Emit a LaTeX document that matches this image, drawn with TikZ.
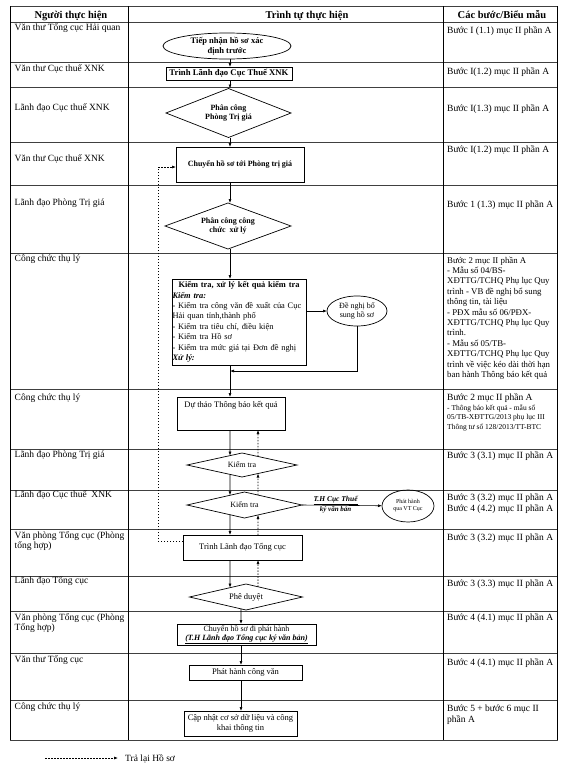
\documentclass[tikz,border=0pt]{standalone}
\usepackage{fontspec}
\setmainfont{Liberation Serif}
\usetikzlibrary{arrows.meta,calc,shapes.geometric}
\begin{document}
\begin{tikzpicture}[x=1pt,y=-1pt,
  gridh/.style={line width=0.6pt,black!75},
  gridv/.style={line width=0.75pt,black},
  lbl/.style={anchor=base west,inner sep=0pt,font=\fontsize{9.5}{10.5}\selectfont},
  lblsm/.style={anchor=base west,inner sep=0pt,font=\fontsize{8.8}{10.4}\selectfont},
  lbltiny/.style={anchor=base west,inner sep=0pt,font=\fontsize{7.5}{9}\selectfont},
  hdr/.style={anchor=base,inner sep=0pt,font=\fontsize{10.5}{12}\selectfont\bfseries},
  stepbox/.style={draw,line width=0.7pt,inner sep=1pt,outer sep=0pt,align=center,font=\fontsize{8.5}{9.5}\selectfont},
  dtext/.style={inner sep=0pt,outer sep=0pt,align=center,font=\fontsize{8}{9}\selectfont},
  dline/.style={line width=0.7pt},
  oval/.style={draw,ellipse,line width=0.7pt,inner sep=0pt,outer sep=0pt,align=center},
  flow/.style={line width=0.6pt,-{Latex[length=4pt,width=3pt]}},
  ret/.style={line width=0.6pt,dash pattern=on 1.5pt off 1.5pt,-{Latex[length=4pt,width=3pt]}},
]
\useasboundingbox (0,0) rectangle (570,772);
\fill[white] (0,0) rectangle (570,772);

% grid
\foreach \yy in {6,22,62,87,142,185,253,389,449,490,529,576,611,653,700,740}
  \draw[gridh] (10,\yy) -- (557.5,\yy);
\foreach \xx in {10,128.5,443.5,557.5}
  \draw[gridv] (\xx,6) -- (\xx,740);

% headers
\node[hdr] (h1) at (71,18) {Người thực hiện};
\node[hdr] (h2) at (307,18) {Trình tự thực hiện};
\node[hdr] (h3) at (502,18) {Các bước/Biểu mẫu};

% left column
\node[lbl] (L1) at (14.5,30) {Văn thư Tổng cục Hải quan};
\node[lbl] (L2) at (14.5,71) {Văn thư Cục thuế XNK};
\node[lbl] (L3) at (14.5,110) {Lãnh đạo Cục thuế XNK};
\node[lbl] (L4) at (14.5,161) {Văn thư Cục thuế XNK};
\node[lbl] (L5) at (14.5,205) {Lãnh đạo Phòng Trị giá};
\node[lbl] (L6) at (14.5,261) {Công chức thụ lý};
\node[lbl] (L7) at (14.5,400) {Công chức thụ lý};
\node[lbl] (L8) at (14.5,457) {Lãnh đạo Phòng Trị giá};
\node[lbl] (L9) at (14.5,497) {Lãnh đạo Cục thuế\ \ XNK};
\node[lbl] (L10a) at (14.5,538) {Văn phòng Tổng cục (Phòng};
\node[lbl] (L10b) at (14.5,548.5) {tổng hợp)};
\node[lbl] (L11) at (14.5,583) {Lãnh đạo Tổng cục};
\node[lbl] (L12a) at (14.5,620) {Văn phòng Tổng cục (Phòng};
\node[lbl] (L12b) at (14.5,630.5) {Tổng hợp)};
\node[lbl] (L13) at (14.5,662) {Văn thư Tổng cục};
\node[lbl] (L14) at (14.5,709) {Công chức thụ lý};

% right column
\node[lbl] (R1) at (447,33) {Bước I (1.1) mục II phần A};
\node[lbl] (R2) at (447,74) {Bước I(1.2) mục II phần A};
\node[lbl] (R3) at (447,111) {Bước I(1.3) mục II phần A};
\node[lbl] (R4) at (447,152) {Bước I(1.2) mục II phần A};
\node[lbl] (R5) at (447,207) {Bước 1 (1.3) mục II phần A};
\foreach \t [count=\i from 0] in {Bước 2 mục II phần A,- Mẫu số 04/BS-,XĐTTG/TCHQ Phụ lục Quy,trình - VB đề nghị bổ sung,{thông tin, tài liệu},- PĐX mẫu số 06/PĐX-,XĐTTG/TCHQ Phụ lục Quy,trình.,- Mẫu số 05/TB-,XĐTTG/TCHQ Phụ lục Quy,trình về việc kéo dài thời hạn,ban hành Thông báo kết quả}
  \node[lblsm] (R6l\i) at (447,263+\i*10.4) {\t};
\node[lbl] (R7a) at (447,400) {Bước 2 mục II phần A};
\node[lbltiny] (R7b) at (447,410) {- Thông báo kết quả - mẫu số};
\node[lbltiny] (R7c) at (447,419.5) {05/TB-XĐTTG/2013 phụ lục III};
\node[lbltiny] (R7d) at (447,429) {Thông tư số 128/2013/TT-BTC};
\node[lbl] (R8) at (447,458) {Bước 3 (3.1) mục II phần A};
\node[lbl] (R9a) at (447,500) {Bước 3 (3.2) mục II phần A};
\node[lbl] (R9b) at (447,511) {Bước 4 (4.2) mục II phần A};
\node[lbl] (R10) at (447,540) {Bước 3 (3.2) mục II phần A};
\node[lbl] (R11) at (447,586) {Bước 3 (3.3) mục II phần A};
\node[lbl] (R12) at (447,620) {Bước 4 (4.1) mục II phần A};
\node[lbl] (R13) at (447,665) {Bước 4 (4.1) mục II phần A};
\node[lbl] (R14a) at (447,711) {Bước 5 + bước 6 mục II};
\node[lbl] (R14b) at (447,722) {phần A};

% flow column x positions
\coordinate (sx) at (230,0);
\coordinate (sx2) at (241,0);
\coordinate (dx) at (258,0);

% flow nodes
\node[oval,minimum width=128pt,minimum height=26pt,font=\fontsize{8.5}{9.5}\selectfont\bfseries] (e1) at (227,46) {Tiếp nhận hồ sơ xác\\định trước};
\node[stepbox,line width=1pt,minimum width=126pt,minimum height=13pt,font=\fontsize{8.7}{9.5}\selectfont\bfseries] (b2) at (229,73.5) {Trình Lãnh đạo Cục Thuế XNK};
\node[dtext,minimum width=125pt,minimum height=49pt,font=\fontsize{8}{9}\selectfont\bfseries] (d3) at (228.5,113) {Phân công\\Phòng Trị giá};
\draw[dline] (d3.north) -- (d3.east) -- (d3.south) -- (d3.west) -- cycle;
\node[stepbox,line width=0.9pt,minimum width=128pt,minimum height=35pt,font=\fontsize{8}{9}\selectfont\bfseries] (b4) at (240,164.5) {Chuyển hồ sơ tới Phòng trị giá};
\node[dtext,minimum width=126pt,minimum height=46pt,font=\fontsize{8}{9}\selectfont\bfseries] (d5) at (228,226) {Phân công công\\chức\ \ xử lý};
\draw[dline] (d5.north) -- (d5.east) -- (d5.south) -- (d5.west) -- cycle;
\node[stepbox,line width=1pt,minimum width=134pt,minimum height=86pt,inner xsep=0.5pt,text width=133pt,align=left,font=\fontsize{8.4}{10.4}\selectfont] (b6) at (239,322) {%
\makebox[\hsize][c]{\textbf{Kiểm tra, xử lý kết quả kiểm tra}}\\
\textbf{\textit{Kiểm tra:}}\\
- Kiểm tra công văn đề xuất của Cục\\
Hải quan tỉnh,thành phố\\
- Kiểm tra tiêu chí, điều kiện\\
- Kiểm tra Hồ sơ\\
- Kiểm tra mức giá tại Đơn đề nghị\\
\textbf{\textit{Xử lý:}}};
\node[oval,minimum width=60pt,minimum height=30pt,font=\fontsize{8}{9}\selectfont] (e7) at (357,311) {Đề nghị bổ\\sung hồ sơ};
\node[stepbox,minimum width=108pt,minimum height=33pt,text height=9pt,text depth=22pt] (b8) at (231,413.5) {Dự thảo Thông báo kết quả};
\node[dtext] (d9) [minimum width=110pt,minimum height=24pt] at (242,465) {Kiểm tra};
\draw[dline] (d9.north) -- (d9.east) -- (d9.south) -- (d9.west) -- cycle;
\node[dtext] (d10) [minimum width=115pt,minimum height=26pt] at (244.5,505) {Kiểm tra};
\draw[dline] (d10.north) -- (d10.east) -- (d10.south) -- (d10.west) -- cycle;
\node[oval,minimum width=52pt,minimum height=32pt,font=\fontsize{6}{7}\selectfont] (e11) at (408,506) {Phát hành\\qua VT Cục};
\node[stepbox,minimum width=119pt,minimum height=25pt] (b12) at (242.5,547.5) {Trình Lãnh đạo Tổng cục};
\node[dtext,minimum width=113pt,minimum height=26pt,font=\fontsize{8.5}{9.5}\selectfont] (d13) at (246,597) {Phê duyệt};
\draw[dline] (d13.north) -- (d13.east) -- (d13.south) -- (d13.west) -- cycle;
\node[stepbox,minimum width=139pt,minimum height=21pt,font=\fontsize{8}{9}\selectfont] (b14) at (246.5,634.5) {Chuyển hồ sơ đi phát hành\\\textbf{\textit{\underline{(T.H Lãnh đạo Tổng cục ký văn bản)}}}};
\node[stepbox,minimum width=113pt,minimum height=15pt] (b15) at (245.5,672.5) {Phát hành công văn};
\node[stepbox,minimum width=113pt,minimum height=25pt] (b16) at (240.5,723.5) {Cập nhật cơ sở dữ liệu và công\\khai thông tin};

% solid connectors
\draw[flow] (e1.south -| sx) -- (b2.north -| sx);
\draw[flow] (b2.south -| sx) -- (d3.north -| sx);
\draw[flow] (d3.south -| sx) -- (b4.north -| sx);
\draw[flow] (b4.south -| sx) -- (d5.north -| sx);
\draw[flow] (d5.south -| sx) -- (b6.north -| sx);
\draw[flow] (b6.south -| sx) -- (b8.north -| sx);
\draw[flow] (b6.east |- e7.west) -- (e7.west);
\coordinate (jn) at (230,371);
\draw[flow] (e7.south) -- (e7.south |- jn) -- (jn);
\draw[flow] (b8.south -| sx) -- ($(d9.north)!0.2182!(d9.west)$);
\draw[flow] ($(d9.south)!0.2182!(d9.west)$) -- ($(d10.north)!0.2522!(d10.west)$);
\draw[flow] ($(d10.south)!0.2522!(d10.west)$) -- (b12.north -| sx);
\draw[flow] (d10.east) -- node[pos=0.42,above=0.3pt,inner sep=0pt,font=\fontsize{7.5}{8.5}\selectfont\bfseries\itshape] (th1) {\underline{T.H Cục Thuế}} node[pos=0.42,below=1pt,inner sep=0pt,font=\fontsize{7}{8}\selectfont\bfseries\itshape] (th2) {ký văn bản} (e11);
\draw[flow] (b12.south -| sx) -- ($(d13.north)!0.2832!(d13.west)$);
\draw[flow] ($(d13.south)!0.0885!(d13.west)$) -- (b14.north -| sx2);
\draw[flow] (b14.south -| sx2) -- (b15.north -| sx2);
\draw[flow] (b15.south -| sx2) -- (b16.north -| sx2);

% dashed return connectors
\draw[ret] ($(d9.north)!0.2909!(d9.east)$) -- (b8.south -| dx);
\draw[ret] ($(d10.north)!0.2348!(d10.east)$) -- ($(d9.south)!0.2909!(d9.east)$);
\draw[ret] (b12.north -| dx) -- ($(d10.south)!0.2348!(d10.east)$);
\draw[ret] ($(d13.north)!0.2124!(d13.east)$) -- (b12.south -| dx);
\coordinate (rl) at (158,541);
\coordinate (rt) at (158,167);
\draw[ret] (rl -| b12.west) -- (rl) -- (rt) -- (rt -| b4.west);

% legend
\coordinate (lg1) at (45,758);
\coordinate (lg2) at (118,758);
\draw[ret] (lg1) -- (lg2);
\node[lbl] (lgt) at (125,761) {Trả lại Hồ sơ};
\end{tikzpicture}
\end{document}
